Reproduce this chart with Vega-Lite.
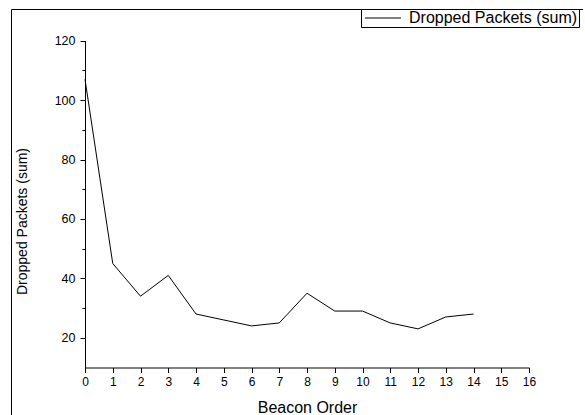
{
  "$schema": "https://vega.github.io/schema/vega-lite/v6.json",
  "width": 572,
  "height": 420,
  "autosize": {"type": "none"},
  "padding": {"left": 11, "top": 9, "right": 0, "bottom": 0},
  "background": "white",
  "config": {
    "view": {"stroke": "black", "strokeWidth": 1},
    "font": "Liberation Sans"
  },
  "data": {
    "values": [
      {"order": 0, "dropped": 107, "series": "Dropped Packets (sum)"},
      {"order": 1, "dropped": 45, "series": "Dropped Packets (sum)"},
      {"order": 2, "dropped": 34, "series": "Dropped Packets (sum)"},
      {"order": 3, "dropped": 41, "series": "Dropped Packets (sum)"},
      {"order": 4, "dropped": 28, "series": "Dropped Packets (sum)"},
      {"order": 5, "dropped": 26, "series": "Dropped Packets (sum)"},
      {"order": 6, "dropped": 24, "series": "Dropped Packets (sum)"},
      {"order": 7, "dropped": 25, "series": "Dropped Packets (sum)"},
      {"order": 8, "dropped": 35, "series": "Dropped Packets (sum)"},
      {"order": 9, "dropped": 29, "series": "Dropped Packets (sum)"},
      {"order": 10, "dropped": 29, "series": "Dropped Packets (sum)"},
      {"order": 11, "dropped": 25, "series": "Dropped Packets (sum)"},
      {"order": 12, "dropped": 23, "series": "Dropped Packets (sum)"},
      {"order": 13, "dropped": 27, "series": "Dropped Packets (sum)"},
      {"order": 14, "dropped": 28, "series": "Dropped Packets (sum)"}
    ]
  },
  "mark": {"type": "line", "strokeWidth": 1},
  "encoding": {
    "x": {
      "field": "order",
      "type": "quantitative",
      "scale": {"domain": [0, 16], "range": [74, 518], "nice": false, "zero": false},
      "axis": {
        "title": "Beacon Order",
        "orient": "bottom",
        "offset": -61.5,
        "values": [0,0.5,1,1.5,2,2.5,3,3.5,4,4.5,5,5.5,6,6.5,7,7.5,8,8.5,9,9.5,10,10.5,11,11.5,12,12.5,13,13.5,14,14.5,15,15.5,16],
        "format": "d",
        "labelExpr": "datum.value % 1 === 0 ? datum.label : ''",
        "tickSize": {"condition": {"test": "datum.value % 1 === 0", "value": 5}, "value": 3},
        "grid": false,
        "domainColor": "black",
        "tickColor": "black",
        "labelColor": "black",
        "labelFontSize": 12,
        "labelPadding": 4,
        "labelFlush": false,
        "labelOverlap": false,
        "titleFontSize": 16,
        "titleFontWeight": "normal",
        "titleColor": "black",
        "titleBaseline": "alphabetic",
        "titleY": 45
      }
    },
    "y": {
      "field": "dropped",
      "type": "quantitative",
      "scale": {"domain": [10, 120], "range": [358.5, 31.7], "nice": false, "zero": false},
      "axis": {
        "title": "Dropped Packets (sum)",
        "orient": "left",
        "offset": -74,
        "values": [20,30,40,50,60,70,80,90,100,110,120],
        "labelExpr": "datum.value % 20 === 0 ? datum.label : ''",
        "tickSize": {"condition": {"test": "datum.value % 20 === 0", "value": 5}, "value": 3},
        "grid": false,
        "domainColor": "black",
        "tickColor": "black",
        "labelColor": "black",
        "labelFontSize": 12.5,
        "labelPadding": 5,
        "labelOverlap": false,
        "titleFontSize": 14,
        "titleFontWeight": "normal",
        "titleColor": "black",
        "titleBaseline": "alphabetic",
        "titleAlign": "center",
        "titleX": -59,
        "titleY": 212
      }
    },
    "color": {
      "field": "series",
      "type": "nominal",
      "scale": {"range": ["black"]},
      "legend": {
        "orient": "none",
        "legendX": 350,
        "legendY": 0,
        "title": null,
        "strokeColor": "black",
        "fillColor": "white",
        "padding": 1,
        "symbolOffset": 1,
        "symbolType": "M-1,0H5",
        "symbolSize": 144,
        "symbolStrokeWidth": 1,
        "symbolStrokeColor": "black",
        "labelFontSize": 16,
        "labelLimit": 400,
        "labelColor": "black",
        "labelOffset": 30
      }
    }
  }
}
